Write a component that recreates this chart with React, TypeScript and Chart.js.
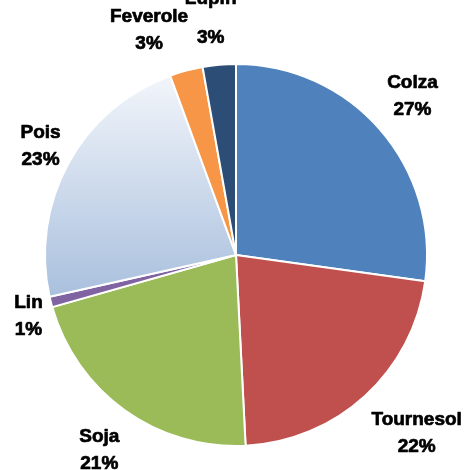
import React, { useEffect, useRef } from "react";
import { Chart, registerables } from "chart.js";

Chart.register(...registerables);

const categories = ["Colza", "Tournesol", "Soja", "Lin", "Pois", "Feverole", "Lupin"];
const shares = [27.2, 22.0, 21.4, 0.9, 22.9, 2.8, 2.8];
const percentLabels = ["27%", "22%", "21%", "1%", "23%", "3%", "3%"];
const sliceColors = ["#4F81BD", "#C0504D", "#9BBB59", "#8064A2", "#B9CDE5", "#F79646", "#2C4D75"];

// label placement tweaks (px) relative to the geometric anchor outside each slice
const labelNudge = [
  [2, -12],
  [11, 10],
  [-5, 10],
  [6, 4],
  [3, -2],
  [-23, -8],
  [-5, -7],
];
const nameLift = [0, 0, 0, 0, 0, 0, 12];

const FONT = "bold 19px 'Liberation Sans', Arial, sans-serif";
const PIE_RADIUS = 191;

const labelPlugin = {
  id: "sliceLabels",
  afterDatasetsDraw(chart: any) {
    const ctx = chart.ctx;
    const meta = chart.getDatasetMeta(0);
    ctx.save();
    ctx.font = FONT;
    ctx.fillStyle = "#000000";
    ctx.strokeStyle = "#000000";
    ctx.lineWidth = 0.7;
    ctx.lineJoin = "round";
    ctx.textAlign = "center";
    ctx.textBaseline = "alphabetic";
    const order = [6, 0, 1, 2, 3, 4, 5];
    order.forEach((i) => {
      const arc = meta.data[i];
      if (!arc) return;
      const p = arc.getProps(["x", "y", "startAngle", "endAngle", "outerRadius"], true);
      const mid = (p.startAngle + p.endAngle) / 2;
      const dx = Math.cos(mid);
      const dy = Math.sin(mid);
      const name = categories[i];
      const pct = percentLabels[i];
      const w = Math.max(ctx.measureText(name).width, ctx.measureText(pct).width);
      const h = 40.5;
      const cx = p.x + dx * (p.outerRadius + 15) + (dx * w) / 2 + labelNudge[i][0];
      const cy = p.y + dy * (p.outerRadius + 15) + (dy * h) / 2 + labelNudge[i][1];
      const base = cy - 6.75;
      ctx.fillText(name, cx, base - nameLift[i]);
      ctx.strokeText(name, cx, base - nameLift[i]);
      ctx.fillText(pct, cx, base + 27);
      ctx.strokeText(pct, cx, base + 27);
    });
    ctx.restore();
  },
};

export default function App() {
  const canvasRef = useRef<HTMLCanvasElement | null>(null);

  useEffect(() => {
    const canvas = canvasRef.current;
    if (!canvas) return;
    const chart = new Chart(canvas, {
      type: "pie",
      data: {
        labels: categories,
        datasets: [
          {
            data: shares,
            backgroundColor: (c: any) => {
              const i = c.dataIndex;
              if (i === 4) {
                const ch = c.chart;
                const area = ch.chartArea;
                if (!area) return sliceColors[4];
                const cyc = (area.top + area.bottom) / 2;
                const g = ch.ctx.createLinearGradient(0, cyc - PIE_RADIUS, 0, cyc + 45);
                g.addColorStop(0, "#F6F8FC");
                g.addColorStop(1, "#A8BFDD");
                return g;
              }
              return sliceColors[i];
            },
            borderColor: "#FFFFFF",
            borderWidth: 2,
          },
        ],
      },
      options: {
        responsive: false,
        animation: false,
        radius: PIE_RADIUS,
        rotation: 0,
        layout: { padding: { top: 40, bottom: 0, left: 1, right: 0 } },
        plugins: {
          legend: { display: false },
          tooltip: { enabled: false },
        },
      } as any,
      plugins: [labelPlugin],
    });
    return () => chart.destroy();
  }, []);

  return (
    <div
      style={{
        position: "fixed",
        left: 0,
        top: 0,
        width: 471,
        height: 470,
        background: "#FFFFFF",
      }}
    >
      <canvas ref={canvasRef} width={471} height={470} style={{ display: "block" }} />
    </div>
  );
}
